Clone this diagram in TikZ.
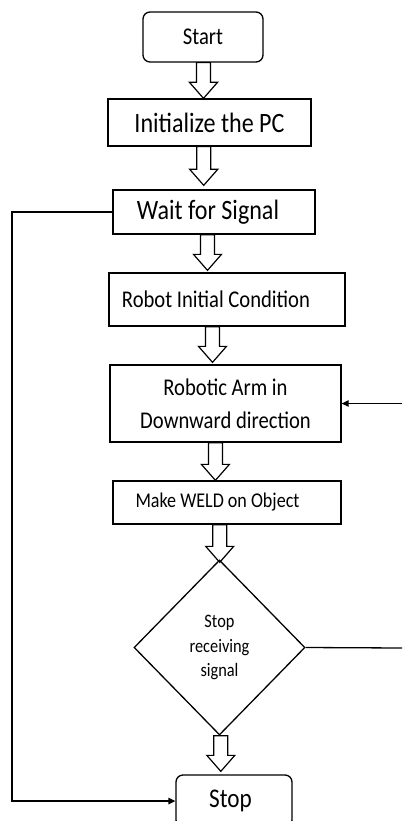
\documentclass[tikz,border=0pt]{standalone}
\usepackage{fontspec}
\setmainfont{Carlito}[FakeStretch=0.86]
\usetikzlibrary{shapes.geometric,arrows.meta,calc}
\pgfdeclarelayer{bg}
\pgfsetlayers{bg,main}
\tikzset{
  box/.style={draw=black, line width=1.3pt, inner sep=0pt, align=center, text=black},
  rbox/.style={box, rounded corners=7pt},
  decision/.style={box, diamond},
  bar/.style={draw=black, line width=1.2pt, fill=white, line join=miter},
  link/.style={draw=black, line width=1.3pt},
  tipped/.style={-{Triangle[length=7pt,width=6.5pt]}}
}
\newcommand\fs[2]{\fontsize{#1}{#2}\selectfont}
% block arrow: #1 centre x (dim), #2 upper node anchor, #3 lower node anchor, #4 gap above lower node
\newcommand\barrow[4]{%
  \draw[bar] let \p1=(#2), \p2=(#3) in
    (#1-7pt,\y1) -- (#1+7pt,\y1) -- (#1+7pt,\y2+#4+16pt) -- (#1+14pt,\y2+#4+16pt)
    -- (#1,\y2+#4) -- (#1-14pt,\y2+#4+16pt) -- (#1-7pt,\y2+#4+16pt) -- cycle;}
\begin{document}
\begin{tikzpicture}[x=1pt,y=-1pt]
\useasboundingbox (0,0) rectangle (402,821);
\clip (0,0) rectangle (402,821);
\path
  (203,37)    node[rbox, minimum width=120pt, minimum height=50pt, font=\fs{24}{28}] (start) {Start}
  (209.5,122.5) node[box, minimum width=203pt, minimum height=47pt, font=\fs{28}{32}] (init) {Initialize the PC}
  (214,212)   node[box, minimum width=202pt, minimum height=44pt, font=\fs{28}{32}] (wait) {Wait for Signal\hspace*{12pt}}
  (227,299.5) node[box, minimum width=236pt, minimum height=53pt, font=\fs{24}{28}] (robot) {Robot Initial Condition\hspace*{22pt}}
  (225.5,403.5) node[box, minimum width=231pt, minimum height=77pt, font=\fs{24}{33}] (arm) {Robotic Arm in\\Downward direction}
  (227,502.5) node[box, minimum width=228pt, minimum height=43pt, font=\fs{21}{25}] (weld) {Make WELD on Object\hspace*{19pt}}
  (219.5,647.5) node[decision, minimum width=171pt, minimum height=175pt, font=\fs{19}{24.5}] (dec) {Stop\\receiving\\signal}
  (234,801)   node[rbox, minimum width=116pt, minimum height=52pt, font=\fs{27}{31}] (stop) {Stop\hspace*{7pt}};
\begin{pgfonlayer}{bg}
\barrow{203.5pt}{start.south}{init.north}{0pt}
\barrow{203.7pt}{init.south}{wait.north}{4pt}
\barrow{207.5pt}{wait.south}{robot.north}{2pt}
\barrow{212.5pt}{robot.south}{arm.north}{2pt}
\barrow{215.4pt}{arm.south}{weld.north}{0pt}
\barrow{219.7pt}{weld.south}{dec.north}{-3pt}
\barrow{220.8pt}{dec.south}{stop.north}{3pt}
\end{pgfonlayer}
\coordinate (lc) at (12,212);
\coordinate (rout) at (402,648);
\coordinate (rin) at (402,403.5);
\draw[link, tipped] (wait.west) -- (lc) |- (stop.west);
\draw[link] (dec.east) -- (rout);
\draw[link, tipped] (rin) -- (arm.east);
\end{tikzpicture}
\end{document}
